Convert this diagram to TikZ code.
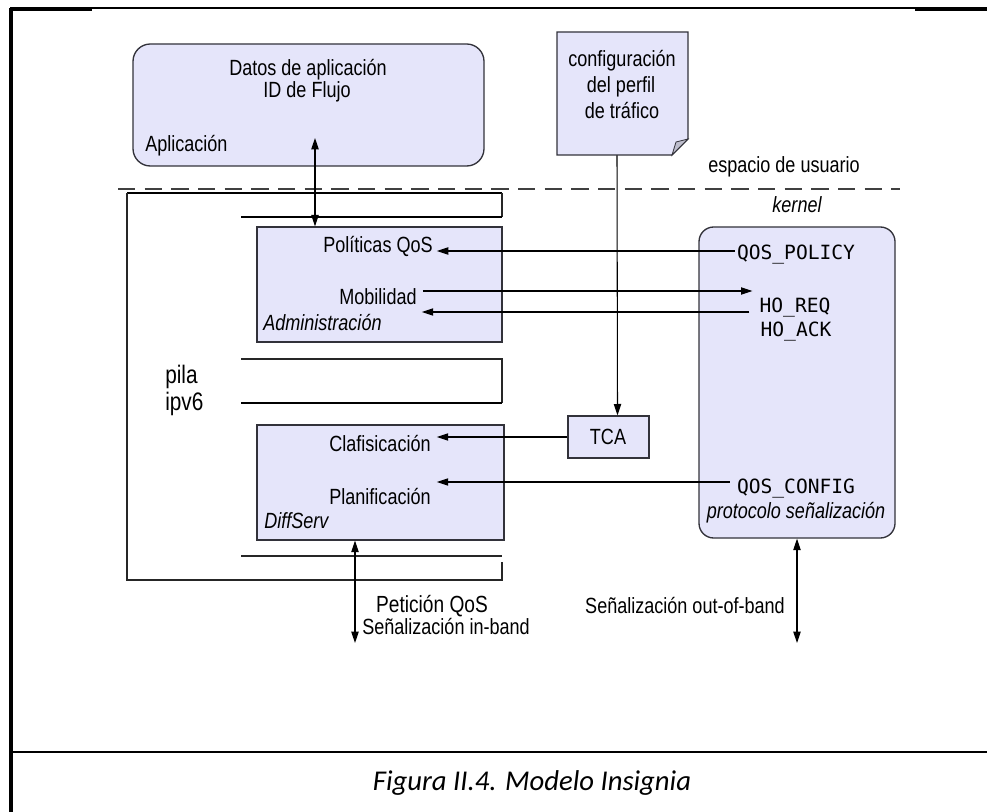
\documentclass[tikz,border=0pt]{standalone}
\usepackage{fontspec}
\setmainfont{Liberation Sans}[FakeStretch=0.82]
\newfontfamily\monofont{DejaVu Sans Mono}
\newfontfamily\capfont{Carlito}
\usetikzlibrary{arrows.meta,calc,fit}
\definecolor{boxfill}{RGB}{229,229,250}
\definecolor{boxline}{RGB}{50,50,58}
\definecolor{foldfill}{RGB}{190,190,205}
\begin{document}
\begin{tikzpicture}[x=0.75pt,y=-0.75pt,
  lbl/.style={font=\fontsize{16.5}{19}\selectfont, inner sep=0pt, anchor=base},
  lbll/.style={lbl, anchor=base west},
  ital/.style={font=\fontsize{16.5}{19}\selectfont\itshape, inner sep=0pt, anchor=base},
  itall/.style={ital, anchor=base west},
  mono/.style={font=\monofont\fontsize{14.7}{17}\selectfont, inner sep=0pt, anchor=base},
  panel/.style={draw=boxline, fill=boxfill, line width=1pt, inner sep=0pt},
  tip/.tip={Triangle[length=8.5pt,width=5.5pt]},
  flow/.style={line width=0.8pt, -tip},
  twoway/.style={line width=0.8pt, tip-tip},
  stackline/.style={line width=0.9pt, draw=black!85},
  stackthick/.style={line width=1.6pt, draw=black}]
\useasboundingbox (0,0) rectangle (987,812);

% page frame and caption row
\draw[line width=1pt] (10,8) -- (987,8);
\draw[line width=2pt] (10,9.5) -- (92,9.5);
\draw[line width=2pt] (915,9.5) -- (987,9.5);
\draw[line width=2.4pt] (11,8) -- (11,812);
\draw[line width=2.2pt] (10,752) -- (987,752);
\node[font=\capfont\itshape\fontsize{21.5}{25}\selectfont, inner sep=0pt, anchor=base] (caption) at (532,790) {Figura II.4. Modelo Insignia};

% application (user space)
\node[panel, rounded corners=13pt, fit={(133,44) (484,166)}] (app) {};
\node[lbl] (datos) at (308,76) {Datos de aplicación};
\node[lbl] (flujo) at (307,98) {ID de Flujo};
\node[lbll] (aplic) at (145,152) {Aplicación};

% traffic profile note with folded corner
\filldraw[fill=boxfill, draw=boxline, line width=1pt]
  (557,32) -- (688,32) -- (688,139) -- (672,155) -- (557,155) -- cycle;
\filldraw[fill=foldfill, draw=boxline, line width=0.6pt]
  (688,139) -- (676,142) -- (672,155) -- cycle;
\node[fit={(557,32) (688,155)}, inner sep=0pt] (note) {};
\node[lbl] (conf1) at (622,67) {configuración};
\node[lbl] (conf2) at (621,93) {del perfil};
\node[lbl] (conf3) at (622,119) {de tráfico};

% user space / kernel boundary
\draw[dashed, dash pattern=on 13pt off 7pt, line width=0.8pt, draw=black!75] (118,189) -- (900,189);
\node[lbl] (usr) at (784,173) {espacio de usuario};
\node[ital] (kern) at (797,213) {kernel};

% ipv6 stack outline
\draw[stackthick] (127,193) -- (502,193);
\draw[stackline] (127,193) -- (127,580) -- (502,580) -- (502,562);
\draw[stackline] (502,193) -- (502,217);
\draw[stackthick] (241,217) -- (502,217);
\draw[stackline] (241,359) -- (502,359) -- (502,403);
\draw[stackthick] (241,403) -- (502,403);
\draw[stackline] (241,556) -- (502,556);
\node[lbll, font=\fontsize{19}{22}\selectfont] (pila) at (165,383) {pila};
\node[lbll, font=\fontsize{19}{22}\selectfont] (ipv6) at (165,410) {ipv6};

% management block
\node[panel, fit={(257,227) (502,342)}] (admin) {};
\node[lbl] (politicas) at (378,253) {Políticas QoS};
\node[lbl] (movil) at (378,305) {Mobilidad};
\node[itall] (adm) at (263,330) {Administración};

% DiffServ block
\node[panel, fit={(257,425) (504,540)}] (diffserv) {};
\node[lbl] (clasif) at (380,451) {Clafisicación};
\node[lbl] (planif) at (380,504) {Planificación};
\node[itall] (dserv) at (264,528) {DiffServ};

% traffic conditioner
\node[panel, fit={(568,416) (649,458)}] (tca) {};
\node[lbl] (tcatxt) at (608,444) {TCA};

% signalling protocol
\node[panel, rounded corners=11pt, fit={(699,227) (895,538)}] (proto) {};
\node[mono] (qpol) at (796,260) {QOS\_POLICY};
\node[mono] (horeq) at (795,313) {HO\_REQ};
\node[mono] (hoack) at (796,337) {HO\_ACK};
\node[mono] (qconf) at (796,493) {QOS\_CONFIG};
\node[ital] (proto-lbl) at (796,518) {protocolo señalización};

% signalling labels below the stack
\node[lbl, font=\fontsize{17.5}{20}\selectfont] (peticion) at (432,612) {Petición QoS};
\node[lbl] (inband) at (446,634) {Señalización in-band};
\node[lbl] (outband) at (685,613) {Señalización out-of-band};

% free ends of the vertical flows
\coordinate (append) at (315,138);
\coordinate (inend) at (355,643);
\coordinate (outend) at (797,643);

% connectors
\draw[twoway] (append) -- (admin.north -| append);
\draw[flow] ($(qpol.base west)+(-2,-9)$) -- ($(politicas.base east)+(4,-2)$);
\draw[flow] ($(movil.base east)+(6,-14)$) -- ($(horeq.base west)+(-7,-22)$);
\draw[flow] ($(hoack.base west)+(-11,-25)$) -- ($(movil.base east)+(5,7)$);
\draw[flow] (tca.west) -- ($(clasif.base east)+(6,-14)$);
\draw[flow] ($(qconf.base west)+(-7,-11)$) -- ($(planif.base east)+(6,-22)$);
\draw[flow] ($(note.south)+(-5.5,0)$) -- ($(tca.north)+(9,0)$);
\draw[twoway] (diffserv.south -| inend) -- (inend);
\draw[twoway] (proto.south) -- (outend);
\end{tikzpicture}
\end{document}
